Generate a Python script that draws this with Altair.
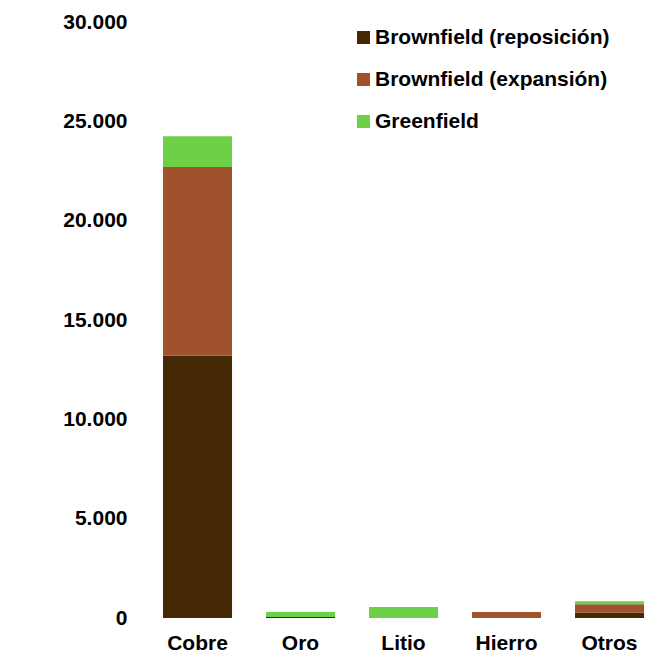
import altair as alt
import pandas as pd

categories = ["Cobre", "Oro", "Litio", "Hierro", "Otros"]
series = ["Brownfield (reposición)", "Brownfield (expansión)", "Greenfield"]
reposicion = [13200, 50, 0, 0, 270]
expansion = [9500, 0, 0, 300, 420]
greenfield = [1550, 250, 550, 0, 150]
colors = ["#452905", "#A0522D", "#6DD147"]
y_ticks = [0, 5000, 10000, 15000, 20000, 25000, 30000]

rows = []
for i, c in enumerate(categories):
    for k, (s, vals) in enumerate(zip(series, [reposicion, expansion, greenfield])):
        rows.append({"cat": c, "serie": s, "valor": vals[i], "orden": k})
df = pd.DataFrame(rows)

FONT = "Liberation Sans"

chart = alt.Chart(df).mark_bar().encode(
    x=alt.X("cat:N", sort=categories,
            scale=alt.Scale(paddingInner=0.33, paddingOuter=0.0775, align=0.94),
            axis=alt.Axis(title=None, labelAngle=0, domain=False, ticks=False,
                          labelPadding=14, labelFontSize=21, labelFont=FONT,
                          labelFontWeight="bold", labelColor="black")),
    y=alt.Y("valor:Q", stack="zero",
            scale=alt.Scale(domain=[0, 30000], nice=False),
            axis=alt.Axis(title=None, values=y_ticks, grid=False, domain=False,
                          ticks=False, labelPadding=21, labelFontSize=21,
                          labelFont=FONT, labelFontWeight="bold", labelColor="black",
                          labelExpr="replace(format(datum.value, ',d'), ',', '.')")),
    color=alt.Color("serie:N",
                    scale=alt.Scale(domain=series, range=colors),
                    legend=alt.Legend(title=None, orient="none", legendX=205, legendY=5,
                                      symbolType="square", symbolSize=169,
                                      symbolStrokeWidth=0,
                                      labelFontSize=21, labelFont=FONT,
                                      labelFontWeight="bold", labelColor="black",
                                      rowPadding=20, labelOffset=1, direction="vertical",
                                      labelLimit=400)),
    order=alt.Order("orden:Q", sort="ascending"),
).properties(
    width=497,
    height=596,
    autosize=alt.AutoSizeParams(type="none"),
    padding={"left": 140, "top": 14, "right": 0, "bottom": 36},
    background="white",
).configure_view(stroke=None)

chart.save("out.html", embed_options={"renderer": "svg", "actions": False})
